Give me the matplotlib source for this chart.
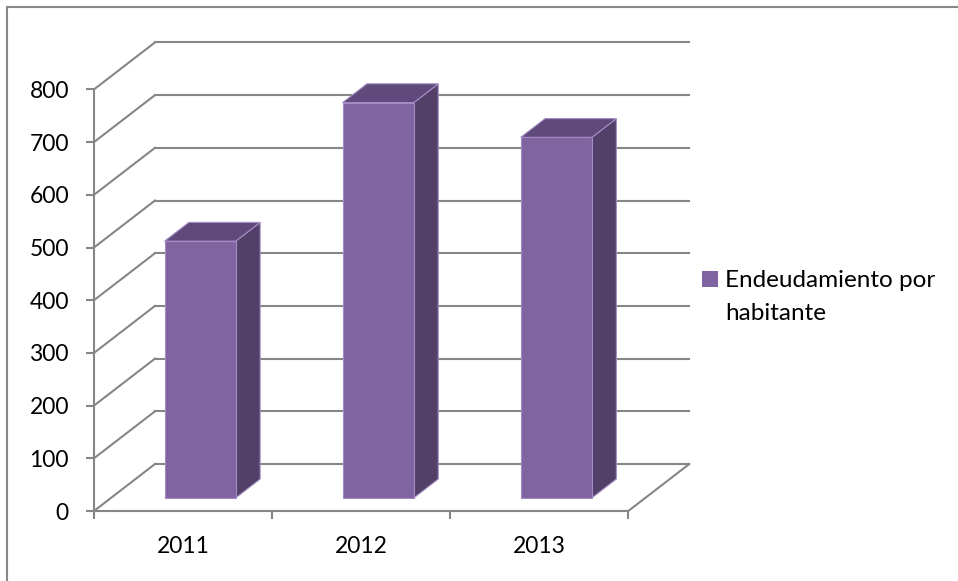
import numpy as np
import matplotlib
matplotlib.use("Agg")
import matplotlib.pyplot as plt
from matplotlib.patches import Polygon, Rectangle

# data
years = ["2011", "2012", "2013"]
values = [487, 750, 684]
series_name = "Endeudamiento por\nhabitante"
y_ticks = [0, 100, 200, 300, 400, 500, 600, 700, 800]

# colours
front_col = "#8064A2"
top_col = "#604A7B"
side_col = "#524068"
edge_col = "#A38CC4"
grid_col = "#868686"

plt.rcParams["font.family"] = ["Lato", "DejaVu Sans"]
fs = 16.5

W, H = 958, 581
fig = plt.figure(figsize=(W / 100, H / 100), dpi=100)

# axes placed so the front plane of the floor matches the reference
x0_px, x1_px = 94, 628.3
y0_px, y1_px = 511, 89.4
ax = fig.add_axes([x0_px / W, (H - y0_px) / H,
                   (x1_px - x0_px) / W, (y0_px - y1_px) / H])
ax.set_xlim(0, len(years))
ax.set_ylim(0, 800)

# depth vector of the 3D box, in data units
px_per_cat = (x1_px - x0_px) / len(years)
px_per_val = (y0_px - y1_px) / 800
ddx = 61 / px_per_cat
ddy = 47 / px_per_val

# walls: back wall gridlines and side wall diagonals
for t in y_ticks:
    ax.plot([ddx, len(years) + ddx], [t + ddy, t + ddy],
            color=grid_col, lw=1.5, clip_on=False, zorder=1)
    ax.plot([0, ddx], [t, t + ddy], color=grid_col, lw=1.5,
            clip_on=False, zorder=1)
# right edge of the floor
ax.plot([len(years), len(years) + ddx], [0, ddy], color=grid_col, lw=1.5,
        clip_on=False, zorder=1)

# bars
bar_w = 0.4
f0 = 0.28      # depth where the bar starts
fd = 0.4       # bar depth fraction
for i, v in enumerate(values):
    bx = i + 0.5 - bar_w / 2 + f0 * ddx
    by = f0 * ddy
    dx, dy = fd * ddx, fd * ddy
    front = [(bx, by), (bx + bar_w, by), (bx + bar_w, by + v), (bx, by + v)]
    top = [(bx, by + v), (bx + bar_w, by + v),
           (bx + bar_w + dx, by + v + dy), (bx + dx, by + v + dy)]
    side = [(bx + bar_w, by), (bx + bar_w + dx, by + dy),
            (bx + bar_w + dx, by + v + dy), (bx + bar_w, by + v)]
    for pts, col in [(side, side_col), (top, top_col), (front, front_col)]:
        ax.add_patch(Polygon(pts, closed=True, facecolor=col,
                             edgecolor=edge_col, lw=0.8, clip_on=False,
                             zorder=3))

# axes styling
for s in ["top", "right"]:
    ax.spines[s].set_visible(False)
for s in ["left", "bottom"]:
    ax.spines[s].set_color(grid_col)
    ax.spines[s].set_linewidth(1.5)
    ax.spines[s].set_zorder(2)
ax.set_facecolor("none")

ax.set_yticks(y_ticks)
ax.set_yticklabels([str(t) for t in y_ticks])
ax.set_xticks(np.arange(len(years) + 1))
ax.set_xticklabels([])
ax.set_xticks(np.arange(len(years)) + 0.5, minor=True)
ax.set_xticklabels(years, minor=True)
ax.tick_params(axis="x", which="minor", length=0, pad=18, labelsize=fs)
ax.tick_params(axis="x", which="major", length=6, width=1.5, color=grid_col)
ax.tick_params(axis="y", length=6, width=1.5, color=grid_col, pad=12,
               labelsize=fs)

# legend
fig.add_artist(Rectangle((702 / W, 1 - 287 / H), 15.6 / W, 15.6 / H,
                         transform=fig.transFigure, facecolor=front_col,
                         edgecolor="none"))
fig.text(725 / W, 1 - 287 / H, series_name.split("\n")[0], fontsize=fs + 1,
         va="baseline", ha="left")
fig.text(725 / W, 1 - 320.5 / H, series_name.split("\n")[1], fontsize=fs + 1,
         va="baseline", ha="left")

# outer chart border (right and bottom edges fall outside the image)
fig.add_artist(Rectangle((6.5 / W, -0.05), 1.1, 1 - 6.5 / H + 0.05,
                         transform=fig.transFigure, facecolor="none",
                         edgecolor="#888888", lw=1.5))

fig.savefig("out.png", dpi=100)
